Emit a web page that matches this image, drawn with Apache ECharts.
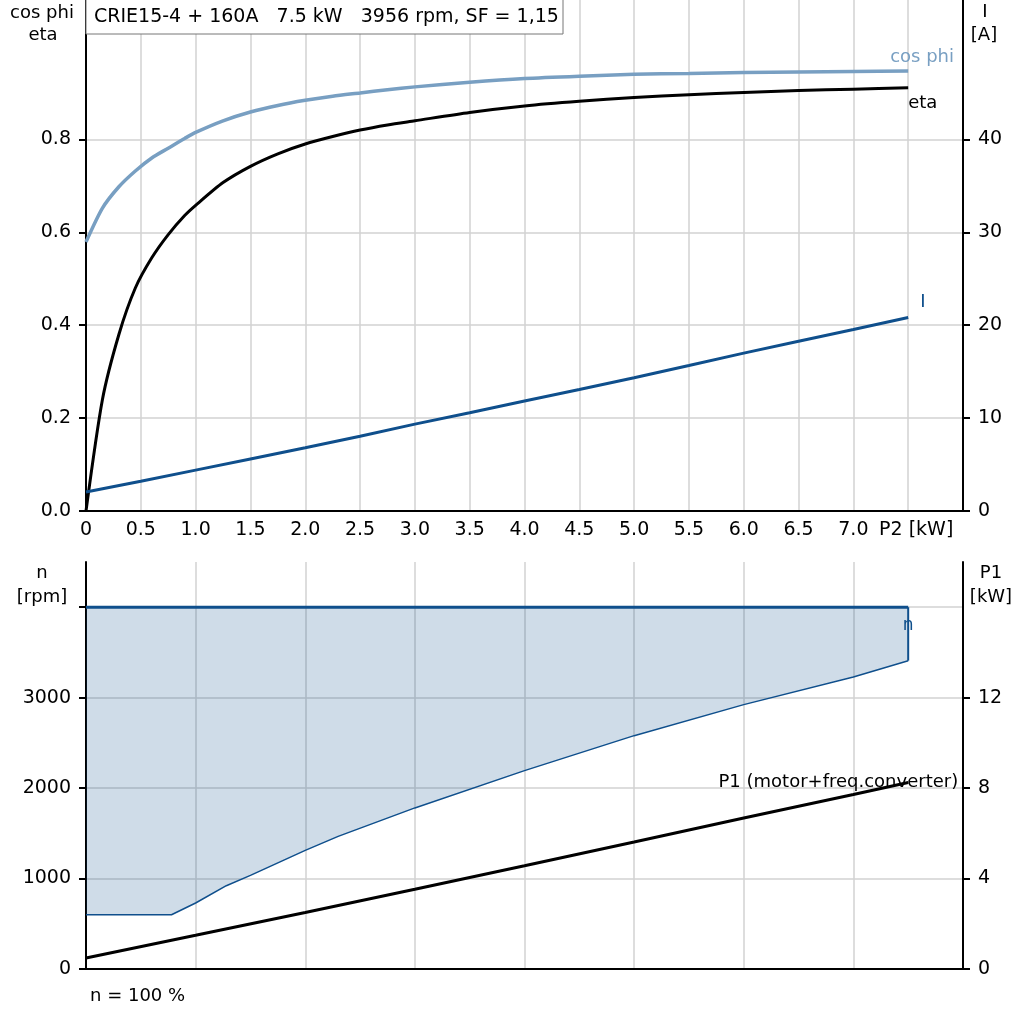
<!DOCTYPE html>
<html>
<head>
<meta charset="utf-8">
<script src="https://cdn.jsdelivr.net/npm/echarts@6/dist/echarts.min.js"></script>
<style>
  html, body { margin: 0; padding: 0; background: #fff; }
  #chart { width: 1024px; height: 1024px; }
</style>
</head>
<body>
<div id="chart"></div>
<script>
// motor curves, upper panel (P2 in kW)
const pTop = [0, 0.15, 0.3, 0.45, 0.6, 0.75, 0.9, 1.0, 1.25, 1.5, 1.75, 2.0, 2.25, 2.5, 2.75, 3.0, 3.5, 4.0, 4.5, 5.0, 5.5, 6.0, 6.5, 7.0, 7.5]
const cosPhi = [0.579, 0.652, 0.698, 0.732, 0.760, 0.781, 0.802, 0.815, 0.840, 0.859, 0.873, 0.884, 0.893, 0.900, 0.907, 0.913, 0.923, 0.931, 0.936, 0.940, 0.942, 0.944, 0.945, 0.946, 0.947]
const eta = [0, 0.24, 0.38, 0.48, 0.545, 0.595, 0.636, 0.658, 0.707, 0.742, 0.769, 0.790, 0.806, 0.820, 0.831, 0.840, 0.858, 0.872, 0.882, 0.890, 0.896, 0.901, 0.905, 0.908, 0.911]
const pCurrent = [0, 0.5, 1.0, 1.5, 2.0, 2.5, 3.0, 3.5, 4.0, 4.5, 5.0, 5.5, 6.0, 6.5, 7.0, 7.5]
const current = [2.04, 3.2, 4.4, 5.6, 6.8, 8.05, 9.35, 10.57, 11.83, 13.08, 14.34, 15.66, 16.99, 18.28, 19.53, 20.82]

// lower panel: speed range and input power
const pSpeed = [0, 0.78, 1.0, 1.28, 1.5, 2.0, 2.3, 3.0, 4.0, 5.0, 6.0, 7.0, 7.5]
const nMin = [600, 600, 730, 921, 1035, 1311, 1466, 1781, 2193, 2580, 2923, 3229, 3409]
const nMax = [4000, 4000, 4000, 4000, 4000, 4000, 4000, 4000, 4000, 4000, 4000, 4000, 4000]
const pP1 = [0, 1, 2, 3, 4, 5, 6, 7, 7.5]
const p1 = [0.49, 1.49, 2.5, 3.53, 4.57, 5.62, 6.68, 7.72, 8.25]

// ticks
const xLabelTicks = [0, 0.5, 1.0, 1.5, 2.0, 2.5, 3.0, 3.5, 4.0, 4.5, 5.0, 5.5, 6.0, 6.5, 7.0, 7.5]
const etaTicks = [0, 0.2, 0.4, 0.6, 0.8]
const currentTicks = [0, 10, 20, 30, 40]
const speedTicks = [0, 1000, 2000, 3000, 4000]
const speedLabels = [0, 1000, 2000, 3000]
const p1Ticks = [0, 4, 8, 12]

const FONT = 'DejaVu Sans'
const BLUE = '#0f4f8c'
const COS = '#789fc2'
const GRID = '#d2d2d2'

const pts = (xs, ys) => xs.map((x, i) => [x, ys[i]])
const last = a => a[a.length - 1]

let myChart = echarts.init(document.getElementById('chart'))

const axisLine = { show: true, lineStyle: { color: '#000', width: 2 } }
const splitLine = { show: true, lineStyle: { color: GRID, width: 1.5 } }
const label = { color: '#000', fontFamily: FONT, fontSize: 19 }
const tick = vals => ({ show: true, length: 7, customValues: vals, lineStyle: { color: '#000', width: 2 } })

myChart.setOption({
    animation: false,
    backgroundColor: '#fff',
    grid: [
        { left: 86, right: 61, top: 0, height: 511 },
        { left: 86, right: 61, top: 562, height: 407 }
    ],
    xAxis: [{
        gridIndex: 0, type: 'value', min: 0, max: 8, interval: 0.5,
        axisLine: axisLine, splitLine: splitLine,
        axisTick: { show: false },
        axisLabel: Object.assign({}, label, {
            margin: 10,
            customValues: xLabelTicks,
            formatter: v => v === 7.5 ? '{p|P2 [kW]}' : (v === 0 ? '0' : v.toFixed(1)),
            rich: { p: { fontFamily: FONT, fontSize: 19, color: '#000', padding: [0, 0, 0, 16] } }
        })
    }, {
        gridIndex: 1, type: 'value', min: 0, max: 8, interval: 1,
        axisLine: axisLine, splitLine: splitLine,
        axisTick: { show: false }, axisLabel: { show: false }
    }],
    yAxis: [{
        gridIndex: 0, type: 'value', min: 0, max: 1.1, interval: 0.1,
        axisLine: axisLine, splitLine: splitLine,
        axisTick: tick(etaTicks),
        axisLabel: Object.assign({}, label, { margin: 15, customValues: etaTicks, formatter: v => v.toFixed(1) })
    }, {
        gridIndex: 0, type: 'value', position: 'right', min: 0, max: 55,
        axisLine: axisLine, splitLine: { show: false },
        axisTick: tick(currentTicks),
        axisLabel: Object.assign({}, label, { margin: 15, customValues: currentTicks, formatter: v => String(v) })
    }, {
        gridIndex: 1, type: 'value', min: 0, max: 4500, interval: 500,
        axisLine: axisLine, splitLine: splitLine,
        axisTick: tick(speedTicks),
        axisLabel: Object.assign({}, label, { margin: 15, customValues: speedLabels, formatter: v => String(v) })
    }, {
        gridIndex: 1, type: 'value', position: 'right', min: 0, max: 18,
        axisLine: axisLine, splitLine: { show: false },
        axisTick: tick(p1Ticks),
        axisLabel: Object.assign({}, label, { margin: 15, customValues: p1Ticks, formatter: v => String(v) })
    }],
    series: [{
        name: 'cos phi', type: 'line', xAxisIndex: 0, yAxisIndex: 0,
        data: pts(pTop, cosPhi), showSymbol: false, smooth: 0.25,
        lineStyle: { color: COS, width: 3.5 },
        endLabel: { show: true, formatter: 'cos phi', color: COS, fontFamily: FONT, fontSize: 18,
            distance: 0, align: 'left', verticalAlign: 'middle', offset: [-18, -14] }
    }, {
        name: 'eta', type: 'line', xAxisIndex: 0, yAxisIndex: 0,
        data: pts(pTop, eta), showSymbol: false, smooth: 0.25,
        lineStyle: { color: '#000', width: 3 },
        endLabel: { show: true, formatter: 'eta', color: '#000', fontFamily: FONT, fontSize: 18,
            distance: 0, align: 'left', verticalAlign: 'middle', offset: [0, 16] }
    }, {
        name: 'I', type: 'line', xAxisIndex: 0, yAxisIndex: 1,
        data: pts(pCurrent, current), showSymbol: false,
        lineStyle: { color: BLUE, width: 3 },
        endLabel: { show: true, formatter: 'I', color: BLUE, fontFamily: FONT, fontSize: 18,
            distance: 0, align: 'left', verticalAlign: 'middle', offset: [12, -15] }
    }, {
        // shaded speed range between nMin and nMax, one polygon
        name: 'n area', type: 'custom', xAxisIndex: 1, yAxisIndex: 2,
        data: pts(pSpeed, nMin), silent: true, z: 1,
        renderItem: (params, api) => {
            if (params.dataIndex !== 0) return
            const lower = pSpeed.map((p, i) => api.coord([p, nMin[i]]))
            const upper = pSpeed.map((p, i) => api.coord([p, nMax[i]])).reverse()
            return {
                type: 'polygon',
                shape: { points: lower.concat(upper) },
                style: { fill: 'rgba(15,79,140,0.2)' }
            }
        }
    }, {
        name: 'n min', type: 'line', xAxisIndex: 1, yAxisIndex: 2,
        data: pts(pSpeed, nMin), showSymbol: false,
        lineStyle: { color: BLUE, width: 1.5 },
        endLabel: { show: true, formatter: 'n', color: BLUE, fontFamily: FONT, fontSize: 17,
            distance: 0, align: 'center', verticalAlign: 'middle', offset: [0, -35] }
    }, {
        name: 'n max', type: 'line', xAxisIndex: 1, yAxisIndex: 2,
        data: pts(pSpeed, nMax), showSymbol: false,
        lineStyle: { color: BLUE, width: 3 }
    }, {
        name: 'n edge', type: 'line', xAxisIndex: 1, yAxisIndex: 2,
        data: [[last(pSpeed), last(nMin)], [last(pSpeed), last(nMax)]], showSymbol: false,
        lineStyle: { color: BLUE, width: 2 }
    }, {
        name: 'P1', type: 'line', xAxisIndex: 1, yAxisIndex: 3,
        data: pts(pP1, p1), showSymbol: false,
        lineStyle: { color: '#000', width: 3 },
        endLabel: { show: true, formatter: 'P1 (motor+freq.converter)', color: '#000', fontFamily: FONT, fontSize: 18,
            distance: 0, align: 'right', verticalAlign: 'middle', offset: [50, 0] }
    }],
    graphic: [
        { type: 'rect', shape: { x: 86, y: -1, width: 477, height: 35 }, style: { fill: '#fff', stroke: '#777', lineWidth: 1 }, z: 100 },
        { type: 'text', x: 94, y: 17, z: 101, style: { text: 'CRIE15-4 + 160A   7.5 kW   3956 rpm, SF = 1,15', font: '19px "DejaVu Sans"', fill: '#000', verticalAlign: 'middle' } },
        { type: 'text', x: 42, y: 13, style: { text: 'cos phi', font: '18px "DejaVu Sans"', fill: '#000', align: 'center', verticalAlign: 'middle' } },
        { type: 'text', x: 43, y: 35, style: { text: 'eta', font: '18px "DejaVu Sans"', fill: '#000', align: 'center', verticalAlign: 'middle' } },
        { type: 'text', x: 985, y: 12, style: { text: 'I', font: '18px "DejaVu Sans"', fill: '#000', align: 'center', verticalAlign: 'middle' } },
        { type: 'text', x: 984, y: 35, style: { text: '[A]', font: '18px "DejaVu Sans"', fill: '#000', align: 'center', verticalAlign: 'middle' } },
        { type: 'text', x: 42, y: 573, style: { text: 'n', font: '18px "DejaVu Sans"', fill: '#000', align: 'center', verticalAlign: 'middle' } },
        { type: 'text', x: 42, y: 597, style: { text: '[rpm]', font: '18px "DejaVu Sans"', fill: '#000', align: 'center', verticalAlign: 'middle' } },
        { type: 'text', x: 991, y: 573, style: { text: 'P1', font: '18px "DejaVu Sans"', fill: '#000', align: 'center', verticalAlign: 'middle' } },
        { type: 'text', x: 991, y: 597, style: { text: '[kW]', font: '18px "DejaVu Sans"', fill: '#000', align: 'center', verticalAlign: 'middle' } },
        { type: 'text', x: 90, y: 996, style: { text: 'n = 100 %', font: '18px "DejaVu Sans"', fill: '#000', verticalAlign: 'middle' } }
    ]
})
</script>
</body>
</html>
